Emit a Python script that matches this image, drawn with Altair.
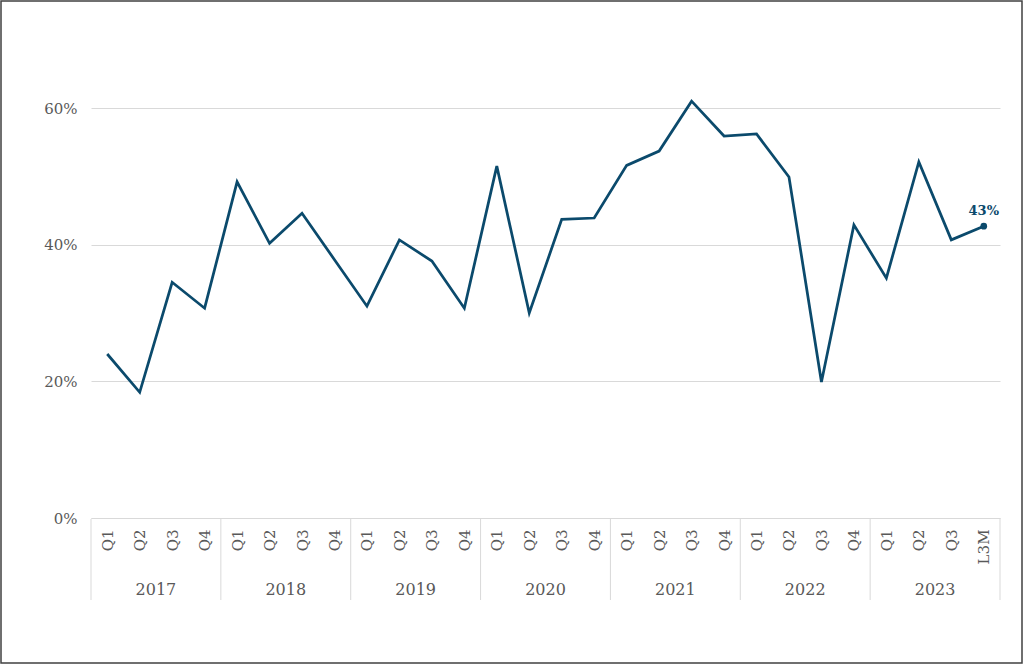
import altair as alt
import pandas as pd

years = ["2017", "2018", "2019", "2020", "2021", "2022", "2023"]
quarters = ["Q1", "Q2", "Q3", "Q4"] * 6 + ["Q1", "Q2", "Q3", "L3M"]
values = [24.0, 18.4, 34.5, 30.7,
          49.2, 40.2, 44.6, 37.8,
          31.0, 40.7, 37.6, 30.7,
          51.5, 30.0, 43.7, 43.9,
          51.6, 53.7, 61.0, 55.9,
          56.2, 49.9, 19.9, 42.9,
          35.1, 52.1, 40.7, 42.7]
last_label = "43%"
y_ticks = [0, 0.2, 0.4, 0.6]

periods = [f"{years[i // 4]} {quarters[i]}" for i in range(len(values))]
df = pd.DataFrame({"period": periods, "value": [v / 100 for v in values]})
last = df.iloc[[-1]].assign(label=last_label)

W, H = 909, 410
COLOR = "#0b4a6c"
GRID = "#d9d9d9"
TXT = "#595959"
FONT = "Georgia, 'DejaVu Serif'"

xscale = alt.Scale(domain=periods, type="point", padding=0.5)
yscale = alt.Scale(domain=[0, 0.6], nice=False)

x_axis = alt.Axis(title=None, labelExpr="split(datum.label, ' ')[1]", labelAngle=-90,
                  labelAlign="right", labelBaseline="middle", labelPadding=11,
                  ticks=False, domainColor=GRID, labelColor=TXT, labelFont=FONT,
                  labelFontSize=15, grid=False)
y_axis = alt.Axis(title=None, values=y_ticks, format=".0%", grid=True, gridColor=GRID,
                  domain=False, ticks=False, labelPadding=14, labelFont=FONT,
                  labelFontSize=15, labelColor=TXT)

Y = alt.Y("value:Q", scale=yscale, axis=y_axis)

line = alt.Chart(df).mark_line(color=COLOR, strokeWidth=2.75).encode(
    x=alt.X("period:N", scale=xscale, sort=periods, axis=x_axis),
    y=Y,
)

pt = alt.Chart(last).mark_point(filled=True, size=45, color=COLOR, opacity=1).encode(
    x=alt.X("period:N", scale=xscale, sort=periods, axis=None),
    y=Y,
)

lbl = alt.Chart(last).mark_text(dy=-15, font=FONT, fontWeight="bold", fontSize=13,
                                color=COLOR).encode(
    x=alt.X("period:N", scale=xscale, sort=periods, axis=None),
    y=Y,
    text="label:N",
)

year_df = pd.DataFrame({"year": years})
year_text = alt.Chart(year_df).mark_text(font=FONT, fontSize=16, color=TXT,
                                          baseline="middle").encode(
    x=alt.X("year:N", scale=alt.Scale(domain=years, type="point", padding=0.5), axis=None),
    y=alt.value(H + 72),
    text="year:N",
)

sep_df = pd.DataFrame({"b": list(range(len(years) + 1))})
seps = alt.Chart(sep_df).mark_rule(color=GRID, strokeWidth=1).encode(
    x=alt.X("b:Q", scale=alt.Scale(domain=[0, len(years)], nice=False), axis=None),
    y=alt.value(H + 1),
    y2=alt.value(H + 82),
)

border = alt.Chart(pd.DataFrame({"a": [0]})).mark_rect(
    fill="white", fillOpacity=0, stroke="#404040", strokeWidth=1.5
).encode(
    x=alt.value(-90), x2=alt.value(W + 22),
    y=alt.value(-107), y2=alt.value(H + 145),
)

chart = alt.layer(border, seps, year_text, line, pt, lbl).resolve_scale(
    x="independent"
).properties(
    width=W, height=H,
    padding={"left": 91, "top": 108, "right": 24, "bottom": 148},
    autosize=alt.AutoSizeParams(type="none"),
    background="white",
).configure_view(stroke=None)

chart.save("out.html", embed_options={"renderer": "svg", "actions": False})
